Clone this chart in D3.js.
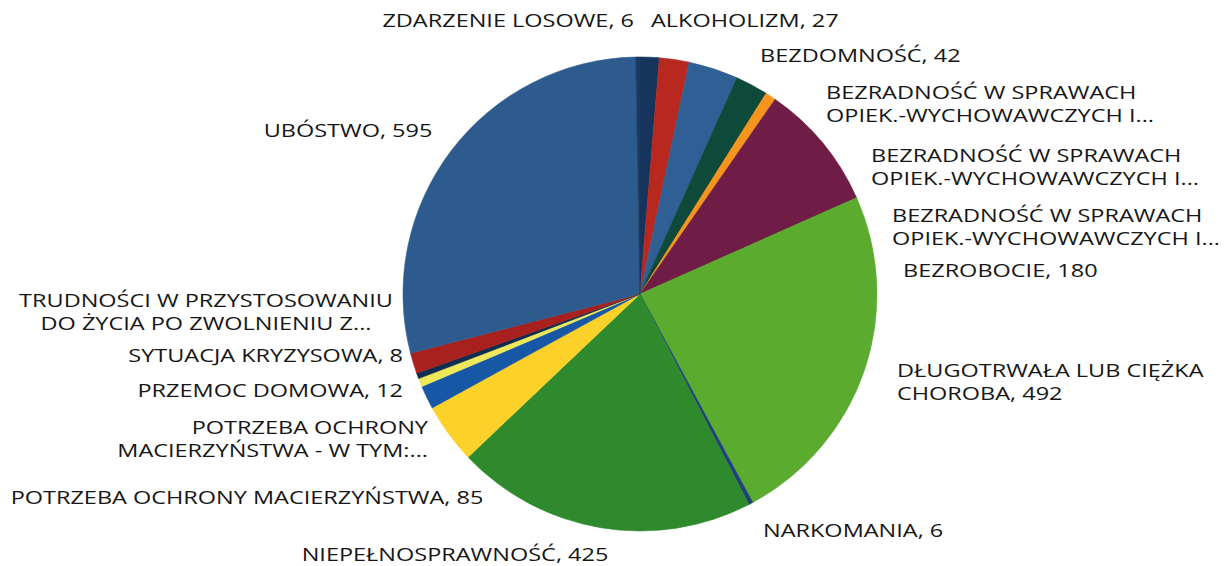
<!DOCTYPE html>
<html>
<head>
<meta charset="utf-8">
<script src="https://cdn.jsdelivr.net/npm/d3@7"></script>
<style>
  body { margin: 0; background: #fff; }
  text { font-family: "Open Sans", "Noto Sans", sans-serif; fill: #161616; }
</style>
</head>
<body>
<div id="chart"></div>
<script>
// data, clockwise from 12 o'clock
const categories = [
  "ALKOHOLIZM",
  "BEZDOMNOŚĆ",
  "BEZRADNOŚĆ W SPRAWACH\nOPIEK.-WYCHOWAWCZYCH I...",
  "BEZRADNOŚĆ W SPRAWACH\nOPIEK.-WYCHOWAWCZYCH I...",
  "BEZRADNOŚĆ W SPRAWACH\nOPIEK.-WYCHOWAWCZYCH I...",
  "BEZROBOCIE",
  "DŁUGOTRWAŁA LUB CIĘŻKA\nCHOROBA",
  "NARKOMANIA",
  "NIEPEŁNOSPRAWNOŚĆ",
  "POTRZEBA OCHRONY MACIERZYŃSTWA",
  "POTRZEBA OCHRONY\nMACIERZYŃSTWA - W TYM:...",
  "PRZEMOC DOMOWA",
  "SYTUACJA KRYZYSOWA",
  "TRUDNOŚCI W PRZYSTOSOWANIU\nDO ŻYCIA PO ZWOLNIENIU Z...",
  "UBÓSTWO",
  "ZDARZENIE LOSOWE"
];
const values = [27, 42, 70, 46, 15, 180, 492, 6, 425, 85, 33, 12, 8, 29, 595, 6];
const colors = [
  "#16345c", "#b8281f", "#2f5f95", "#0e4a3a", "#f7941d", "#6f1c47",
  "#5bab2e", "#1f3f7d", "#2e8a2c", "#fcd12a", "#1657a6", "#efe85a",
  "#102c4e", "#a8211e", "#2e5b8d", "#1b3a62"
];

// label placement (layout only): x, centre y of first line, anchor
const labelPos = [
  [651, 20, "start"], [760, 55, "start"], [826, 92, "start"], [871, 155, "start"],
  [892, 215, "start"], [903, 270, "start"], [897, 370, "start"], [763, 530, "start"],
  [455, 554, "middle"], [247, 497, "middle"], [428, 427, "end"], [403, 390, "end"],
  [403, 355, "end"], [206, 300, "middle"], [348, 130, "middle"], [634, 20, "end"]
];

const width = 1227, height = 566;
const cx = 640, cy = 294, radius = 237;
const stretch = 1.27; // the reference lettering is wide

const svg = d3.select("#chart")
  .append("svg")
  .attr("width", width)
  .attr("height", height)
  .attr("viewBox", [0, 0, width, height]);

const pie = d3.pie().sort(null).value((d) => d.value);
const arc = d3.arc().innerRadius(0).outerRadius(radius);

const data = categories.map((c, i) => ({ name: c, value: values[i], color: colors[i] }));

const g = svg.append("g").attr("transform", `translate(${cx},${cy})`);

g.selectAll("path")
  .data(pie(data))
  .enter()
  .append("path")
  .attr("d", arc)
  .attr("fill", (d) => d.data.color)
  .attr("stroke", (d) => d.data.color)
  .attr("stroke-width", 0.6);

// labels
data.forEach((d, i) => {
  let lines = d.name.split("\n");
  if (!d.name.endsWith("...")) lines[lines.length - 1] += ", " + d.value;
  const [x, y, anchor] = labelPos[i];
  const t = svg.append("text")
    .attr("transform", `translate(${x},${y}) scale(${stretch},1)`)
    .attr("text-anchor", anchor)
    .attr("font-size", "18.5px")
    .attr("font-weight", 500);
  lines.forEach((l, j) => {
    t.append("tspan")
      .attr("x", 0)
      .attr("y", j * 23)
      .attr("dy", "0.36em")
      .text(l);
  });
});
</script>
</body>
</html>
